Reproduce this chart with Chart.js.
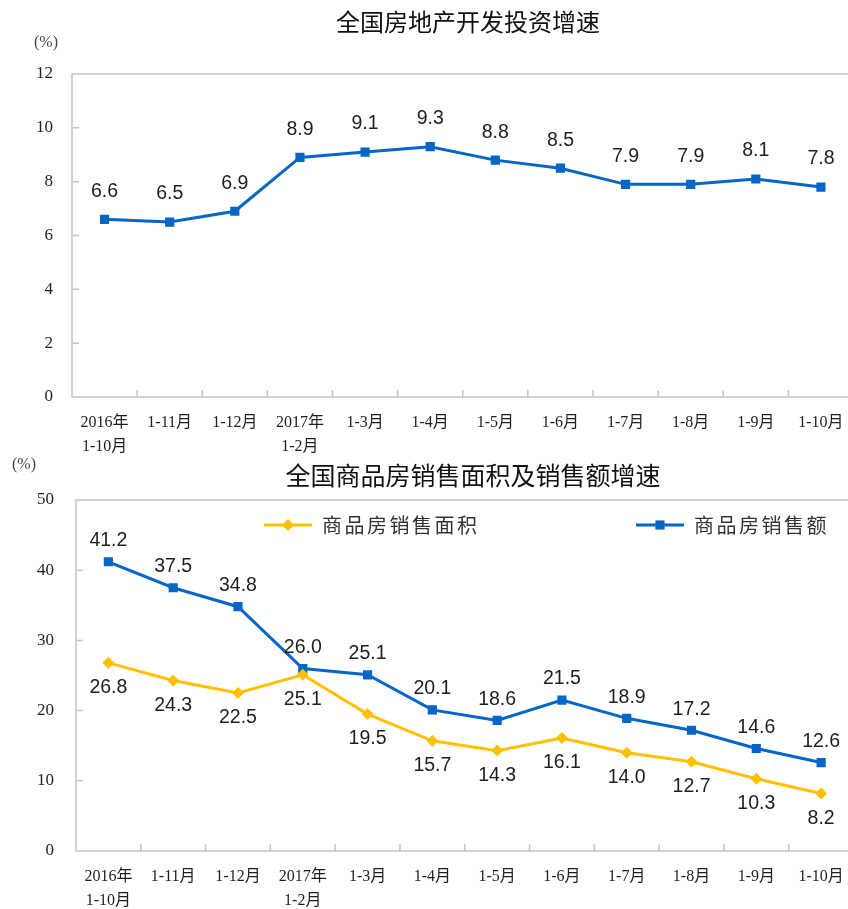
<!DOCTYPE html>
<html>
<head>
<meta charset="utf-8">
<script src="https://cdn.jsdelivr.net/npm/chart.js@4.4.1/dist/chart.umd.min.js"></script>
<style>
  html, body { margin: 0; padding: 0; background: #fff; overflow: hidden; }
  #wrap { position: relative; width: 848px; height: 909px; overflow: hidden; }
  #invest { position: absolute; left: 0; top: 0; }
  #sales { position: absolute; left: 0; top: 455px; }
</style>
</head>
<body>
<div id="wrap">
  <canvas id="invest" width="860" height="455"></canvas>
  <canvas id="sales" width="860" height="454"></canvas>
</div>
<script>
// data
const months = [['2016年', '1-10月'], '1-11月', '1-12月', ['2017年', '1-2月'], '1-3月', '1-4月',
  '1-5月', '1-6月', '1-7月', '1-8月', '1-9月', '1-10月'];
const investGrowth = [6.6, 6.5, 6.9, 8.9, 9.1, 9.3, 8.8, 8.5, 7.9, 7.9, 8.1, 7.8];
const salesArea = [26.8, 24.3, 22.5, 25.1, 19.5, 15.7, 14.3, 16.1, 14.0, 12.7, 10.3, 8.2];
const salesAmount = [41.2, 37.5, 34.8, 26.0, 25.1, 20.1, 18.6, 21.5, 18.9, 17.2, 14.6, 12.6];
const investTicks = { min: 0, max: 12, step: 2 };
const salesTicks = { min: 0, max: 50, step: 10 };

const BLUE = '#0566c8';
const YELLOW = '#ffc000';
const GREY = '#c4c4c4';
const TEXT = '#1e1e1e';
const serif = '"Liberation Serif", "Noto Sans CJK SC", serif';
const cjk = '"Noto Sans CJK SC", sans-serif';

// box (open on the right, it runs off the page) + inside tick marks
const frame = {
  id: 'frame',
  beforeDatasetsDraw(chart) {
    const { ctx, chartArea: a, scales: { x, y } } = chart;
    ctx.save();
    ctx.strokeStyle = GREY;
    ctx.lineWidth = 1.5;
    ctx.beginPath();
    ctx.moveTo(a.right, a.top);
    ctx.lineTo(a.left, a.top);
    ctx.lineTo(a.left, a.bottom);
    ctx.lineTo(a.right, a.bottom);
    for (let i = 1; i < y.ticks.length - 1; i++) {
      const py = y.getPixelForTick(i);
      ctx.moveTo(a.left, py);
      ctx.lineTo(a.left + 7, py);
    }
    for (let i = 1; i < x.ticks.length; i++) {
      const px = (x.getPixelForTick(i - 1) + x.getPixelForTick(i)) / 2;
      ctx.moveTo(px, a.bottom);
      ctx.lineTo(px, a.bottom - 7);
    }
    ctx.stroke();
    ctx.restore();
  }
};

// numbers next to points
const valueLabels = {
  id: 'valueLabels',
  afterDatasetsDraw(chart) {
    const ctx = chart.ctx;
    ctx.save();
    ctx.font = '19.5px "Liberation Sans", Arial, sans-serif';
    ctx.fillStyle = TEXT;
    ctx.textAlign = 'center';
    ctx.textBaseline = 'middle';
    chart.data.datasets.forEach((ds, di) => {
      chart.getDatasetMeta(di).data.forEach((pt, i) => {
        ctx.fillText(ds.data[i].toFixed(1), pt.x, pt.y + ds.labelOffset);
      });
    });
    ctx.restore();
  }
};

// titles, unit, legend
const extras = {
  id: 'extras',
  afterDraw(chart, args, opts) {
    const ctx = chart.ctx;
    ctx.save();
    ctx.fillStyle = '#111';
    ctx.textBaseline = 'middle';
    ctx.textAlign = 'center';
    ctx.font = opts.titleSize + 'px ' + cjk;
    ctx.fillText(opts.title, opts.titleX, opts.titleY);
    ctx.font = '16px ' + serif;
    ctx.fillStyle = '#444';
    ctx.fillText('(%)', opts.unitX, opts.unitY);
    (opts.legend || []).forEach(item => {
      ctx.strokeStyle = item.color;
      ctx.fillStyle = item.color;
      ctx.lineWidth = 3;
      ctx.beginPath();
      ctx.moveTo(item.x, item.y);
      ctx.lineTo(item.x + 48, item.y);
      ctx.stroke();
      Chart.helpers.drawPoint(ctx, { pointStyle: item.style, radius: item.radius, borderWidth: 0 }, item.x + 24, item.y);
      ctx.fillStyle = '#333';
      ctx.textAlign = 'left';
      ctx.font = '20px ' + cjk;
      ctx.letterSpacing = '2.5px';
      ctx.fillText(item.text, item.x + 58, item.y);
      ctx.letterSpacing = '0px';
    });
    ctx.restore();
  }
};

function xAxis() {
  return {
    offset: true,
    grid: { display: false, drawTicks: false },
    border: { display: false },
    ticks: { autoSkip: false, maxRotation: 0, padding: 14, color: TEXT, font: { family: serif, size: 16, lineHeight: 1.5 } },
    afterFit: s => { s.height = 58; }
  };
}

function yAxis(t, w, pad) {
  return {
    min: t.min, max: t.max,
    grid: { display: false, drawTicks: false },
    border: { display: false },
    ticks: { stepSize: t.step, padding: pad, color: TEXT, font: { family: serif, size: 17 } },
    afterFit: s => { s.width = w; }
  };
}

new Chart(document.getElementById('invest'), {
  type: 'line',
  data: {
    labels: months,
    datasets: [{
      label: '全国房地产开发投资增速',
      data: investGrowth,
      borderColor: BLUE,
      backgroundColor: BLUE,
      borderWidth: 3,
      pointStyle: 'rect',
      pointRadius: 6.5,
      pointBorderWidth: 0,
      tension: 0,
      labelOffset: -28
    }]
  },
  options: {
    responsive: false,
    animation: false,
    devicePixelRatio: 1,
    layout: { padding: { left: 0, top: 74, right: 6, bottom: 0 } },
    scales: { x: xAxis(), y: yAxis(investTicks, 72, 19) },
    plugins: {
      legend: { display: false },
      tooltip: { enabled: false },
      extras: { title: '全国房地产开发投资增速', titleSize: 24, titleX: 468, titleY: 22, unitX: 46, unitY: 43 }
    }
  },
  plugins: [frame, valueLabels, extras]
});

new Chart(document.getElementById('sales'), {
  type: 'line',
  data: {
    labels: months,
    datasets: [{
      label: '商品房销售面积',
      data: salesArea,
      borderColor: YELLOW,
      backgroundColor: YELLOW,
      borderWidth: 3,
      pointStyle: 'rectRot',
      pointRadius: 6,
      pointBorderWidth: 0,
      tension: 0,
      labelOffset: 25
    }, {
      label: '商品房销售额',
      data: salesAmount,
      borderColor: BLUE,
      backgroundColor: BLUE,
      borderWidth: 3,
      pointStyle: 'rect',
      pointRadius: 6.5,
      pointBorderWidth: 0,
      tension: 0,
      labelOffset: -21
    }]
  },
  options: {
    responsive: false,
    animation: false,
    devicePixelRatio: 1,
    layout: { padding: { left: 0, top: 45, right: 6, bottom: 0 } },
    scales: { x: xAxis(), y: yAxis(salesTicks, 76, 22) },
    plugins: {
      legend: { display: false },
      tooltip: { enabled: false },
      extras: {
        title: '全国商品房销售面积及销售额增速', titleSize: 25, titleX: 473, titleY: 20, unitX: 24, unitY: 10,
        legend: [
          { text: '商品房销售面积', color: YELLOW, style: 'rectRot', radius: 6, x: 264, y: 70 },
          { text: '商品房销售额', color: BLUE, style: 'rect', radius: 6.5, x: 636, y: 70 }
        ]
      }
    }
  },
  plugins: [frame, valueLabels, extras]
});
</script>
</body>
</html>
